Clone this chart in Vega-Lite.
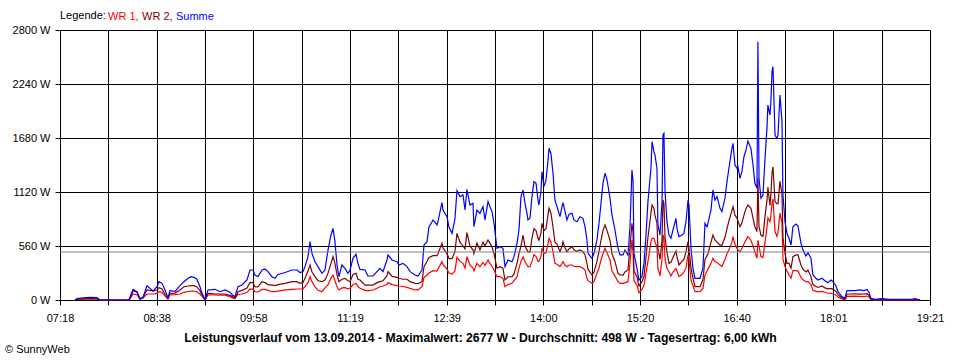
{
  "$schema": "https://vega.github.io/schema/vega-lite/v6.json",
  "width": 870,
  "height": 270,
  "autosize": {"type": "none"},
  "padding": {"left": 60, "top": 30, "right": 30, "bottom": 60},
  "background": "white",
  "title": {"text": "© SunnyWeb", "orient": "bottom", "anchor": "start", "frame": "group", "dx": -55, "offset": 1, "fontSize": 11, "fontWeight": "normal", "font": "Liberation Sans", "color": "black"},
  "datasets": {
    "power": [
      {"t":450.5,"wr1":0,"wr2":0,"summe":0},
      {"t":452.1,"wr1":5,"wr2":8,"summe":14},
      {"t":457.1,"wr1":8,"wr2":12,"summe":22},
      {"t":462.9,"wr1":10,"wr2":15,"summe":28},
      {"t":468.7,"wr1":9,"wr2":13,"summe":24},
      {"t":471.2,"wr1":0,"wr2":0,"summe":0},
      {"t":495.3,"wr1":0,"wr2":0,"summe":0},
      {"t":497.0,"wr1":30,"wr2":35,"summe":60},
      {"t":498.7,"wr1":62,"wr2":97,"summe":110},
      {"t":502.0,"wr1":55,"wr2":80,"summe":86},
      {"t":504.5,"wr1":7,"wr2":7,"summe":14},
      {"t":507.0,"wr1":20,"wr2":25,"summe":28},
      {"t":510.3,"wr1":62,"wr2":104,"summe":148},
      {"t":512.8,"wr1":62,"wr2":100,"summe":121},
      {"t":515.3,"wr1":62,"wr2":95,"summe":93},
      {"t":518.6,"wr1":69,"wr2":104,"summe":138},
      {"t":520.3,"wr1":86,"wr2":128,"summe":190},
      {"t":522.8,"wr1":80,"wr2":115,"summe":173},
      {"t":525.3,"wr1":40,"wr2":60,"summe":104},
      {"t":527.7,"wr1":10,"wr2":15,"summe":25},
      {"t":529.4,"wr1":52,"wr2":69,"summe":97},
      {"t":533.6,"wr1":55,"wr2":72,"summe":90},
      {"t":537.7,"wr1":62,"wr2":104,"summe":150},
      {"t":541.0,"wr1":80,"wr2":138,"summe":190},
      {"t":544.4,"wr1":88,"wr2":145,"summe":225},
      {"t":546.9,"wr1":93,"wr2":149,"summe":242},
      {"t":549.4,"wr1":93,"wr2":149,"summe":235},
      {"t":551.8,"wr1":85,"wr2":135,"summe":215},
      {"t":554.3,"wr1":62,"wr2":97,"summe":138},
      {"t":556.0,"wr1":40,"wr2":55,"summe":70},
      {"t":558.5,"wr1":0,"wr2":0,"summe":7},
      {"t":561.0,"wr1":52,"wr2":69,"summe":104},
      {"t":564.3,"wr1":52,"wr2":66,"summe":107},
      {"t":566.8,"wr1":52,"wr2":62,"summe":111},
      {"t":571.0,"wr1":50,"wr2":62,"summe":86},
      {"t":575.1,"wr1":50,"wr2":62,"summe":104},
      {"t":579.3,"wr1":35,"wr2":48,"summe":80},
      {"t":581.8,"wr1":20,"wr2":30,"summe":45},
      {"t":583.4,"wr1":17,"wr2":17,"summe":35},
      {"t":585.9,"wr1":59,"wr2":86,"summe":138},
      {"t":589.2,"wr1":62,"wr2":100,"summe":156},
      {"t":593.4,"wr1":80,"wr2":125,"summe":207},
      {"t":595.9,"wr1":114,"wr2":183,"summe":311},
      {"t":598.4,"wr1":110,"wr2":180,"summe":311},
      {"t":600.0,"wr1":86,"wr2":138,"summe":259},
      {"t":602.5,"wr1":83,"wr2":135,"summe":242},
      {"t":605.9,"wr1":110,"wr2":190,"summe":311},
      {"t":608.4,"wr1":110,"wr2":180,"summe":321},
      {"t":610.8,"wr1":100,"wr2":160,"summe":294},
      {"t":614.2,"wr1":86,"wr2":155,"summe":242},
      {"t":616.7,"wr1":86,"wr2":150,"summe":225},
      {"t":619.2,"wr1":93,"wr2":160,"summe":265},
      {"t":625.0,"wr1":104,"wr2":173,"summe":285},
      {"t":630.8,"wr1":110,"wr2":190,"summe":311},
      {"t":634.9,"wr1":114,"wr2":190,"summe":311},
      {"t":637.4,"wr1":114,"wr2":173,"summe":285},
      {"t":639.9,"wr1":114,"wr2":180,"summe":294},
      {"t":641.6,"wr1":138,"wr2":225,"summe":346},
      {"t":644.1,"wr1":180,"wr2":300,"summe":450},
      {"t":645.8,"wr1":242,"wr2":363,"summe":605},
      {"t":647.4,"wr1":190,"wr2":290,"summe":484},
      {"t":649.9,"wr1":138,"wr2":242,"summe":397},
      {"t":652.4,"wr1":100,"wr2":200,"summe":346},
      {"t":655.7,"wr1":86,"wr2":190,"summe":277},
      {"t":658.2,"wr1":125,"wr2":207,"summe":311},
      {"t":660.7,"wr1":156,"wr2":276,"summe":518},
      {"t":663.2,"wr1":230,"wr2":380,"summe":674},
      {"t":664.9,"wr1":259,"wr2":449,"summe":743},
      {"t":666.5,"wr1":200,"wr2":380,"summe":605},
      {"t":668.2,"wr1":138,"wr2":260,"summe":363},
      {"t":669.8,"wr1":104,"wr2":190,"summe":242},
      {"t":672.3,"wr1":125,"wr2":215,"summe":363},
      {"t":674.8,"wr1":128,"wr2":225,"summe":328},
      {"t":677.3,"wr1":115,"wr2":200,"summe":277},
      {"t":679.0,"wr1":121,"wr2":190,"summe":311},
      {"t":681.5,"wr1":160,"wr2":265,"summe":432},
      {"t":684.0,"wr1":173,"wr2":276,"summe":474},
      {"t":685.6,"wr1":140,"wr2":215,"summe":380},
      {"t":687.3,"wr1":121,"wr2":207,"summe":318},
      {"t":691.5,"wr1":100,"wr2":155,"summe":311},
      {"t":693.9,"wr1":95,"wr2":155,"summe":249},
      {"t":698.1,"wr1":104,"wr2":155,"summe":249},
      {"t":701.4,"wr1":121,"wr2":180,"summe":294},
      {"t":703.9,"wr1":138,"wr2":190,"summe":328},
      {"t":706.4,"wr1":145,"wr2":200,"summe":294},
      {"t":709.7,"wr1":160,"wr2":250,"summe":415},
      {"t":710.6,"wr1":180,"wr2":294,"summe":467},
      {"t":713.9,"wr1":160,"wr2":245,"summe":415},
      {"t":718.0,"wr1":149,"wr2":235,"summe":397},
      {"t":719.7,"wr1":145,"wr2":225,"summe":363},
      {"t":723.0,"wr1":140,"wr2":215,"summe":380},
      {"t":726.4,"wr1":131,"wr2":215,"summe":346},
      {"t":728.9,"wr1":120,"wr2":190,"summe":294},
      {"t":733.0,"wr1":104,"wr2":173,"summe":259},
      {"t":735.5,"wr1":104,"wr2":170,"summe":249},
      {"t":738.8,"wr1":138,"wr2":190,"summe":311},
      {"t":740.5,"wr1":232,"wr2":346,"summe":570},
      {"t":743.0,"wr1":259,"wr2":400,"summe":605},
      {"t":744.6,"wr1":280,"wr2":440,"summe":754},
      {"t":748.0,"wr1":304,"wr2":460,"summe":830},
      {"t":751.3,"wr1":300,"wr2":460,"summe":778},
      {"t":752.1,"wr1":320,"wr2":480,"summe":812},
      {"t":755.4,"wr1":397,"wr2":588,"summe":1009},
      {"t":756.3,"wr1":370,"wr2":540,"summe":933},
      {"t":759.6,"wr1":320,"wr2":480,"summe":864},
      {"t":761.3,"wr1":280,"wr2":430,"summe":754},
      {"t":763.8,"wr1":270,"wr2":430,"summe":691},
      {"t":766.2,"wr1":300,"wr2":500,"summe":840},
      {"t":767.9,"wr1":442,"wr2":691,"summe":1134},
      {"t":770.4,"wr1":400,"wr2":600,"summe":1072},
      {"t":772.9,"wr1":380,"wr2":560,"summe":1089},
      {"t":774.6,"wr1":330,"wr2":530,"summe":933},
      {"t":776.2,"wr1":449,"wr2":698,"summe":1148},
      {"t":778.7,"wr1":360,"wr2":560,"summe":985},
      {"t":781.2,"wr1":330,"wr2":520,"summe":1003},
      {"t":782.0,"wr1":300,"wr2":480,"summe":760},
      {"t":784.5,"wr1":380,"wr2":590,"summe":933},
      {"t":787.0,"wr1":345,"wr2":520,"summe":899},
      {"t":789.5,"wr1":390,"wr2":600,"summe":968},
      {"t":791.2,"wr1":360,"wr2":560,"summe":830},
      {"t":793.7,"wr1":415,"wr2":622,"summe":1020},
      {"t":795.3,"wr1":380,"wr2":590,"summe":968},
      {"t":797.0,"wr1":350,"wr2":550,"summe":916},
      {"t":798.7,"wr1":310,"wr2":480,"summe":795},
      {"t":801.1,"wr1":242,"wr2":330,"summe":536},
      {"t":803.6,"wr1":242,"wr2":346,"summe":553},
      {"t":806.1,"wr1":225,"wr2":330,"summe":536},
      {"t":807.8,"wr1":138,"wr2":207,"summe":346},
      {"t":810.3,"wr1":160,"wr2":240,"summe":415},
      {"t":813.6,"wr1":173,"wr2":242,"summe":397},
      {"t":815.3,"wr1":200,"wr2":270,"summe":450},
      {"t":817.8,"wr1":240,"wr2":380,"summe":588},
      {"t":819.4,"wr1":330,"wr2":480,"summe":726},
      {"t":821.1,"wr1":400,"wr2":560,"summe":1072},
      {"t":822.8,"wr1":449,"wr2":674,"summe":1141},
      {"t":824.4,"wr1":400,"wr2":560,"summe":1003},
      {"t":826.1,"wr1":363,"wr2":520,"summe":899},
      {"t":826.9,"wr1":346,"wr2":500,"summe":830},
      {"t":828.6,"wr1":346,"wr2":500,"summe":850},
      {"t":830.2,"wr1":400,"wr2":640,"summe":1072},
      {"t":831.9,"wr1":470,"wr2":740,"summe":1227},
      {"t":833.6,"wr1":450,"wr2":720,"summe":1210},
      {"t":835.2,"wr1":400,"wr2":640,"summe":1037},
      {"t":836.0,"wr1":400,"wr2":620,"summe":985},
      {"t":837.7,"wr1":450,"wr2":690,"summe":1124},
      {"t":838.5,"wr1":536,"wr2":795,"summe":1331},
      {"t":840.2,"wr1":480,"wr2":720,"summe":1175},
      {"t":841.9,"wr1":490,"wr2":740,"summe":1245},
      {"t":843.5,"wr1":580,"wr2":880,"summe":1440},
      {"t":844.4,"wr1":640,"wr2":951,"summe":1573},
      {"t":846.0,"wr1":600,"wr2":900,"summe":1520},
      {"t":847.7,"wr1":500,"wr2":760,"summe":1314},
      {"t":849.3,"wr1":380,"wr2":600,"summe":1037},
      {"t":851.0,"wr1":370,"wr2":580,"summe":968},
      {"t":853.5,"wr1":346,"wr2":500,"summe":864},
      {"t":855.2,"wr1":380,"wr2":560,"summe":968},
      {"t":856.0,"wr1":397,"wr2":605,"summe":1010},
      {"t":857.7,"wr1":360,"wr2":540,"summe":916},
      {"t":859.3,"wr1":346,"wr2":500,"summe":830},
      {"t":861.0,"wr1":363,"wr2":530,"summe":890},
      {"t":863.5,"wr1":363,"wr2":553,"summe":899},
      {"t":865.1,"wr1":350,"wr2":520,"summe":830},
      {"t":867.6,"wr1":346,"wr2":505,"summe":812},
      {"t":870.1,"wr1":346,"wr2":520,"summe":864},
      {"t":872.6,"wr1":330,"wr2":500,"summe":847},
      {"t":874.3,"wr1":311,"wr2":470,"summe":760},
      {"t":875.9,"wr1":225,"wr2":380,"summe":622},
      {"t":876.8,"wr1":200,"wr2":320,"summe":484},
      {"t":880.1,"wr1":173,"wr2":259,"summe":432},
      {"t":881.8,"wr1":190,"wr2":290,"summe":484},
      {"t":884.2,"wr1":277,"wr2":400,"summe":622},
      {"t":885.9,"wr1":330,"wr2":500,"summe":795},
      {"t":887.6,"wr1":415,"wr2":622,"summe":1003},
      {"t":889.2,"wr1":480,"wr2":720,"summe":1210},
      {"t":890.9,"wr1":536,"wr2":778,"summe":1314},
      {"t":892.6,"wr1":490,"wr2":720,"summe":1245},
      {"t":895.1,"wr1":415,"wr2":620,"summe":1055},
      {"t":896.7,"wr1":300,"wr2":480,"summe":882},
      {"t":899.2,"wr1":250,"wr2":400,"summe":726},
      {"t":901.7,"wr1":190,"wr2":277,"summe":536},
      {"t":903.4,"wr1":173,"wr2":260,"summe":467},
      {"t":905.9,"wr1":173,"wr2":259,"summe":467},
      {"t":907.5,"wr1":180,"wr2":290,"summe":518},
      {"t":910.0,"wr1":190,"wr2":311,"summe":467},
      {"t":911.7,"wr1":380,"wr2":550,"summe":760},
      {"t":913.3,"wr1":622,"wr2":795,"summe":1348},
      {"t":914.2,"wr1":500,"wr2":700,"summe":1245},
      {"t":915.0,"wr1":200,"wr2":300,"summe":484},
      {"t":917.5,"wr1":155,"wr2":242,"summe":328},
      {"t":919.1,"wr1":76,"wr2":145,"summe":207},
      {"t":921.6,"wr1":110,"wr2":190,"summe":242},
      {"t":923.3,"wr1":150,"wr2":240,"summe":380},
      {"t":925.0,"wr1":280,"wr2":450,"summe":674},
      {"t":926.6,"wr1":400,"wr2":650,"summe":1020},
      {"t":929.1,"wr1":600,"wr2":900,"summe":1366},
      {"t":930.0,"wr1":640,"wr2":985,"summe":1642},
      {"t":931.6,"wr1":640,"wr2":950,"summe":1538},
      {"t":932.4,"wr1":605,"wr2":880,"summe":1504},
      {"t":934.1,"wr1":550,"wr2":800,"summe":1366},
      {"t":934.9,"wr1":328,"wr2":536,"summe":778},
      {"t":936.6,"wr1":250,"wr2":420,"summe":674},
      {"t":938.3,"wr1":420,"wr2":620,"summe":1020},
      {"t":939.1,"wr1":674,"wr2":1037,"summe":1711},
      {"t":939.9,"wr1":650,"wr2":1000,"summe":1728},
      {"t":940.8,"wr1":420,"wr2":650,"summe":1130},
      {"t":942.4,"wr1":330,"wr2":500,"summe":812},
      {"t":944.1,"wr1":290,"wr2":380,"summe":674},
      {"t":945.7,"wr1":250,"wr2":390,"summe":640},
      {"t":947.4,"wr1":290,"wr2":440,"summe":726},
      {"t":949.9,"wr1":328,"wr2":508,"summe":847},
      {"t":950.7,"wr1":300,"wr2":450,"summe":743},
      {"t":952.4,"wr1":242,"wr2":363,"summe":657},
      {"t":954.9,"wr1":265,"wr2":400,"summe":674},
      {"t":956.5,"wr1":290,"wr2":420,"summe":691},
      {"t":958.2,"wr1":330,"wr2":500,"summe":812},
      {"t":959.9,"wr1":467,"wr2":605,"summe":1037},
      {"t":960.7,"wr1":420,"wr2":536,"summe":985},
      {"t":962.4,"wr1":200,"wr2":330,"summe":536},
      {"t":964.0,"wr1":150,"wr2":230,"summe":328},
      {"t":965.7,"wr1":86,"wr2":138,"summe":225},
      {"t":969.8,"wr1":86,"wr2":138,"summe":225},
      {"t":972.3,"wr1":120,"wr2":210,"summe":328},
      {"t":974.0,"wr1":260,"wr2":420,"summe":795},
      {"t":975.7,"wr1":300,"wr2":460,"summe":760},
      {"t":976.5,"wr1":320,"wr2":480,"summe":800},
      {"t":979.0,"wr1":380,"wr2":600,"summe":933},
      {"t":980.6,"wr1":432,"wr2":674,"summe":1141},
      {"t":982.3,"wr1":400,"wr2":622,"summe":1037},
      {"t":984.0,"wr1":390,"wr2":600,"summe":1072},
      {"t":986.5,"wr1":363,"wr2":570,"summe":951},
      {"t":988.1,"wr1":350,"wr2":570,"summe":916},
      {"t":990.6,"wr1":420,"wr2":650,"summe":1055},
      {"t":992.3,"wr1":480,"wr2":740,"summe":1227},
      {"t":993.9,"wr1":520,"wr2":820,"summe":1366},
      {"t":996.4,"wr1":600,"wr2":930,"summe":1573},
      {"t":997.3,"wr1":657,"wr2":968,"summe":1625},
      {"t":998.9,"wr1":580,"wr2":880,"summe":1400},
      {"t":1000.6,"wr1":536,"wr2":850,"summe":1366},
      {"t":1001.4,"wr1":520,"wr2":820,"summe":1383},
      {"t":1003.1,"wr1":501,"wr2":760,"summe":1262},
      {"t":1004.7,"wr1":536,"wr2":800,"summe":1331},
      {"t":1006.4,"wr1":580,"wr2":880,"summe":1486},
      {"t":1008.1,"wr1":622,"wr2":950,"summe":1556},
      {"t":1009.7,"wr1":657,"wr2":985,"summe":1649},
      {"t":1012.2,"wr1":620,"wr2":950,"summe":1573},
      {"t":1013.9,"wr1":560,"wr2":850,"summe":1400},
      {"t":1015.5,"wr1":501,"wr2":760,"summe":1210},
      {"t":1017.2,"wr1":432,"wr2":709,"summe":1158},
      {"t":1018.0,"wr1":620,"wr2":1262,"summe":2679},
      {"t":1018.9,"wr1":560,"wr2":760,"summe":1262},
      {"t":1020.5,"wr1":450,"wr2":674,"summe":1055},
      {"t":1022.2,"wr1":440,"wr2":660,"summe":1089},
      {"t":1023.9,"wr1":600,"wr2":870,"summe":1470},
      {"t":1025.5,"wr1":750,"wr2":1030,"summe":1780},
      {"t":1026.3,"wr1":850,"wr2":1170,"summe":2022},
      {"t":1028.0,"wr1":812,"wr2":980,"summe":1918},
      {"t":1028.8,"wr1":880,"wr2":1100,"summe":2057},
      {"t":1029.7,"wr1":1000,"wr2":1320,"summe":2368},
      {"t":1030.5,"wr1":1050,"wr2":1380,"summe":2420},
      {"t":1032.2,"wr1":710,"wr2":1020,"summe":1711},
      {"t":1033.8,"wr1":660,"wr2":1000,"summe":1676},
      {"t":1034.7,"wr1":700,"wr2":1000,"summe":1711},
      {"t":1036.3,"wr1":900,"wr2":1230,"summe":2126},
      {"t":1038.0,"wr1":800,"wr2":1100,"summe":1850},
      {"t":1038.8,"wr1":420,"wr2":650,"summe":1089},
      {"t":1040.5,"wr1":346,"wr2":484,"summe":812},
      {"t":1042.1,"wr1":300,"wr2":380,"summe":691},
      {"t":1043.8,"wr1":260,"wr2":380,"summe":640},
      {"t":1045.5,"wr1":225,"wr2":330,"summe":570},
      {"t":1047.1,"wr1":304,"wr2":450,"summe":760},
      {"t":1049.6,"wr1":304,"wr2":467,"summe":788},
      {"t":1051.3,"wr1":300,"wr2":467,"summe":767},
      {"t":1053.8,"wr1":235,"wr2":360,"summe":588},
      {"t":1055.4,"wr1":210,"wr2":320,"summe":518},
      {"t":1057.9,"wr1":190,"wr2":290,"summe":456},
      {"t":1059.6,"wr1":190,"wr2":310,"summe":490},
      {"t":1062.1,"wr1":160,"wr2":240,"summe":432},
      {"t":1063.7,"wr1":100,"wr2":160,"summe":259},
      {"t":1066.2,"wr1":90,"wr2":140,"summe":225},
      {"t":1067.9,"wr1":85,"wr2":130,"summe":207},
      {"t":1071.2,"wr1":90,"wr2":145,"summe":225},
      {"t":1073.7,"wr1":80,"wr2":125,"summe":200},
      {"t":1076.2,"wr1":70,"wr2":115,"summe":180},
      {"t":1078.7,"wr1":70,"wr2":120,"summe":207},
      {"t":1080.4,"wr1":62,"wr2":110,"summe":190},
      {"t":1082.9,"wr1":50,"wr2":90,"summe":145},
      {"t":1084.5,"wr1":30,"wr2":55,"summe":86},
      {"t":1087.8,"wr1":12,"wr2":20,"summe":35},
      {"t":1090.3,"wr1":5,"wr2":10,"summe":17},
      {"t":1092.0,"wr1":38,"wr2":60,"summe":97},
      {"t":1098.6,"wr1":41,"wr2":65,"summe":97},
      {"t":1102.8,"wr1":38,"wr2":60,"summe":104},
      {"t":1106.1,"wr1":35,"wr2":62,"summe":97},
      {"t":1108.6,"wr1":41,"wr2":65,"summe":110},
      {"t":1110.3,"wr1":30,"wr2":50,"summe":80},
      {"t":1111.9,"wr1":7,"wr2":10,"summe":17},
      {"t":1115.3,"wr1":0,"wr2":0,"summe":7},
      {"t":1121.1,"wr1":0,"wr2":5,"summe":14},
      {"t":1127.7,"wr1":0,"wr2":0,"summe":7},
      {"t":1134.4,"wr1":0,"wr2":0,"summe":7},
      {"t":1146.0,"wr1":0,"wr2":0,"summe":7},
      {"t":1148.5,"wr1":0,"wr2":5,"summe":14},
      {"t":1152.7,"wr1":0,"wr2":0,"summe":0}
    ],
    "avg": [{"durchschnitt": 498}]
  },
  "layer": [
    {
      "data": {"name": "power"},
      "transform": [{"fold": ["wr1", "wr2", "summe"], "as": ["series", "watt"]}],
      "mark": {"type": "line", "strokeWidth": 1.2, "interpolate": "linear"},
      "encoding": {
        "x": {
          "field": "t", "type": "quantitative",
          "scale": {"domain": [438, 1161], "nice": false, "zero": false},
          "axis": {
            "values": [438, 478.1667, 518.3333, 558.5, 598.6667, 638.8333, 679, 719.1667, 759.3333, 799.5, 839.6667, 879.8333, 920, 960.1667, 1000.3333, 1040.5, 1080.6667, 1120.8333, 1161],
            "labelExpr": "['07:18','','08:38','','09:58','','11:19','','12:39','','14:00','','15:20','','16:40','','18:01','','19:21'][round((datum.value-438)/40.1667)]",
            "labelPadding": 7,
            "labelFlush": false,
            "labelOverlap": false,
            "title": "Leistungsverlauf vom 13.09.2014 - Maximalwert: 2677 W - Durchschnitt: 498 W - Tagesertrag: 6,00 kWh",
            "titleFontSize": 12.2,
            "titleFontWeight": "bold",
            "titleX": 420,
            "titleY": 41,
            "titleBaseline": "alphabetic",
            "titleAlign": "center",
            "titleAnchor": null
          }
        },
        "y": {
          "field": "watt", "type": "quantitative",
          "scale": {"domain": [0, 2800], "nice": false},
          "axis": {
            "values": [0, 560, 1120, 1680, 2240, 2800],
            "labelExpr": "datum.value + ' W'",
            "labelPadding": 5,
            "title": null
          }
        },
        "color": {
          "field": "series", "type": "nominal",
          "scale": {"domain": ["wr1", "wr2", "summe"], "range": ["#ff0000", "#800000", "#0000ff"]},
          "legend": {
            "title": "Legende:",
            "orient": "none",
            "legendX": 0,
            "legendY": -19,
            "direction": "horizontal",
            "gridAlign": "none",
            "titleOrient": "left",
            "titleFontWeight": "normal",
            "titleFontSize": 11,
            "titleFont": "Liberation Sans",
            "titleColor": "black",
            "titlePadding": -13,
            "labelFont": "Liberation Sans",
            "labelFontSize": 11,
            "labelExpr": "datum.value == 'wr1' ? 'WR 1,' : datum.value == 'wr2' ? 'WR 2,' : 'Summe'",
            "labelColor": {"expr": "datum.value == 'wr1' ? '#ff0000' : datum.value == 'wr2' ? '#800000' : '#0000ff'"},
            "symbolType": "circle",
            "symbolSize": 0.01,
            "symbolOpacity": 0,
            "symbolStrokeWidth": 0.01,
            "columnPadding": -12,
            "padding": 0
          }
        }
      }
    },
    {
      "data": {"name": "avg"},
      "mark": {"type": "rule", "color": "#808080", "strokeWidth": 1},
      "encoding": {"y": {"field": "durchschnitt", "type": "quantitative"}}
    }
  ],
  "config": {
    "view": {"stroke": null},
    "font": "Liberation Sans",
    "axis": {
      "grid": true,
      "gridColor": "black",
      "gridOpacity": 1,
      "gridWidth": 1,
      "domainColor": "black",
      "tickColor": "black",
      "tickSize": 5,
      "labelFont": "Liberation Sans",
      "labelFontSize": 11,
      "labelColor": "black",
      "titleFont": "Liberation Sans",
      "titleColor": "black",
      "zindex": 1
    }
  }
}
